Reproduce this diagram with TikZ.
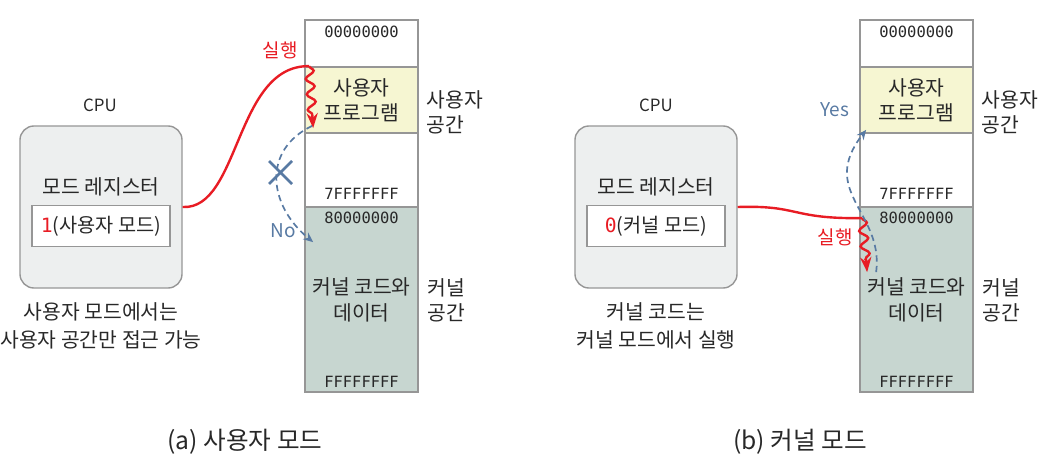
\documentclass[tikz,border=0pt]{standalone}
\usepackage{fontspec}
\setmainfont{Noto Sans CJK KR}
\newfontfamily\addrfont{DejaVu Sans Mono}
\usetikzlibrary{arrows.meta,positioning,calc,decorations.pathmorphing}
\definecolor{runred}{RGB}{232,28,36}
\definecolor{askblue}{RGB}{88,122,163}
\definecolor{userfill}{RGB}{246,246,210}
\definecolor{kernfill}{RGB}{199,214,208}
\definecolor{cpufill}{RGB}{237,239,239}
\definecolor{edgegray}{RGB}{150,150,150}
\definecolor{inkgray}{RGB}{40,40,40}
\begin{document}
\begin{tikzpicture}[x=0.025cm,y=-0.025cm,>=Stealth,text=inkgray,
  cell/.style={draw=edgegray,line width=1.2pt,minimum width=2.825cm,inner sep=0pt},
  cpubox/.style={draw=edgegray,line width=1pt,rounded corners=10pt,fill=cpufill,
                 minimum width=4.05cm,minimum height=4.05cm},
  regbox/.style={draw=edgegray,line width=1.2pt,fill=white,minimum width=3.45cm,
                 minimum height=1.02cm,font=\fontsize{14}{16}\selectfont},
  addr/.style={font=\addrfont\fontsize{11}{13}\selectfont,inner sep=0pt},
  txt/.style={font=\fontsize{14.5}{17}\selectfont,align=center,inner sep=0pt},
  small/.style={font=\fontsize{12}{14}\selectfont,inner sep=0pt},
  tag/.style={font=\fontsize{13.5}{16}\selectfont,inner sep=0pt},
  caption/.style={font=\fontsize{17.5}{20}\selectfont,inner sep=0pt},
  run/.style={draw=runred,line width=1.7pt},
  ask/.style={draw=askblue,line width=1.2pt,dash pattern=on 4.5pt off 3pt,-{Stealth[length=7pt,width=6pt]}},
  wig/.style={decorate,decoration={snake,amplitude=3pt,segment length=11pt,post length=9pt}}]
\useasboundingbox (0,0) rectangle (1046,466);

% (a) user mode
\node[small] (cpulabelA) at (100,105) {CPU};
\node[cpubox] (cpuA) at (101,207) {};
\node[txt] (regnameA) at (101,187) {모드 레지스터};
\node[regbox] (regA) at (101,226) {{\addrfont\color{runred}1}(사용자 모드)};
\node[txt] (noteA) at (101,326) {사용자 모드에서는\\[3pt]사용자 공간만 접근 가능};

\node[cell,minimum height=1.175cm] (topA) at (361.5,43.5) {};
\node[cell,minimum height=1.65cm,fill=userfill] (userA) at (361.5,100) {};
\node[cell,minimum height=1.85cm] (gapA) at (361.5,170) {};
\node[cell,minimum height=4.625cm,fill=kernfill] (kernA) at (361.5,299.5) {};
\node[addr] at (361.5,32) {00000000};
\node[txt] at (userA) {사용자\\[1pt]프로그램};
\node[addr] at (361.5,194) {7FFFFFFF};
\node[addr] at (361.5,218) {80000000};
\node[txt] at (361.5,300) {커널 코드와\\[1pt]데이터};
\node[addr] at (361.5,382) {FFFFFFFF};
\node[txt,align=left] (uspaceA) at (455,112) {사용자\\[1pt]공간};
\node[txt,align=left] (kspaceA) at (446,300) {커널\\[1pt]공간};

\coordinate (runtopA) at ($(userA.north west)+(5,0)$);
\draw[run] (cpuA.east) .. controls (240,210) and (235,65) .. (runtopA);
\draw[run,->,wig] (runtopA) -- ($(userA.north west)+(9,62)$);
\node[tag,text=runred] (runlabelA) at (280,50) {실행};
\draw[ask] ($(userA.south west)+(8,-8)$) .. controls (262,150) and (268,205) .. ($(kernA.north west)+(9,36)$);
\draw[askblue,line width=1.8pt] (269,161) -- (292,184) (269,184) -- (292,161);
\node[tag,text=askblue] (noA) at (283,231) {No};
\node[caption] (capA) at (245,442) {(a) 사용자 모드};

% (b) kernel mode
\node[small] (cpulabelB) at (656,105) {CPU};
\node[cpubox] (cpuB) at (656,207) {};
\node[txt] (regnameB) at (656,187) {모드 레지스터};
\node[regbox] (regB) at (656,226) {{\addrfont\color{runred}0}(커널 모드)};
\node[txt] (noteB) at (656,326) {커널 코드는\\[3pt]커널 모드에서 실행};

\node[cell,minimum height=1.175cm] (topB) at (916.5,43.5) {};
\node[cell,minimum height=1.65cm,fill=userfill] (userB) at (916.5,100) {};
\node[cell,minimum height=1.85cm] (gapB) at (916.5,170) {};
\node[cell,minimum height=4.625cm,fill=kernfill] (kernB) at (916.5,299.5) {};
\node[addr] at (916.5,32) {00000000};
\node[txt] at (userB) {사용자\\[1pt]프로그램};
\node[addr] at (916.5,194) {7FFFFFFF};
\node[addr] at (916.5,218) {80000000};
\node[txt] at (916.5,300) {커널 코드와\\[1pt]데이터};
\node[addr] at (916.5,382) {FFFFFFFF};
\node[txt,align=left] (uspaceB) at (1010,112) {사용자\\[1pt]공간};
\node[txt,align=left] (kspaceB) at (1001,300) {커널\\[1pt]공간};

\coordinate (runtopB) at ($(kernB.north west)+(3,12)$);
\draw[run] (cpuB.east) .. controls (800,205) and (790,219) .. (runtopB);
\draw[run,->,wig] (runtopB) -- ($(kernB.north west)+(8,66)$);
\node[tag,text=runred] (runlabelB) at (835,237) {실행};
\draw[ask] ($(kernB.north west)+(17,66)$) .. controls (884,212) and (818,192) .. ($(userB.south west)+(7,-4)$);
\node[tag,text=askblue] (yesB) at (835,110) {Yes};
\node[caption] (capB) at (800,442) {(b) 커널 모드};
\end{tikzpicture}
\end{document}
